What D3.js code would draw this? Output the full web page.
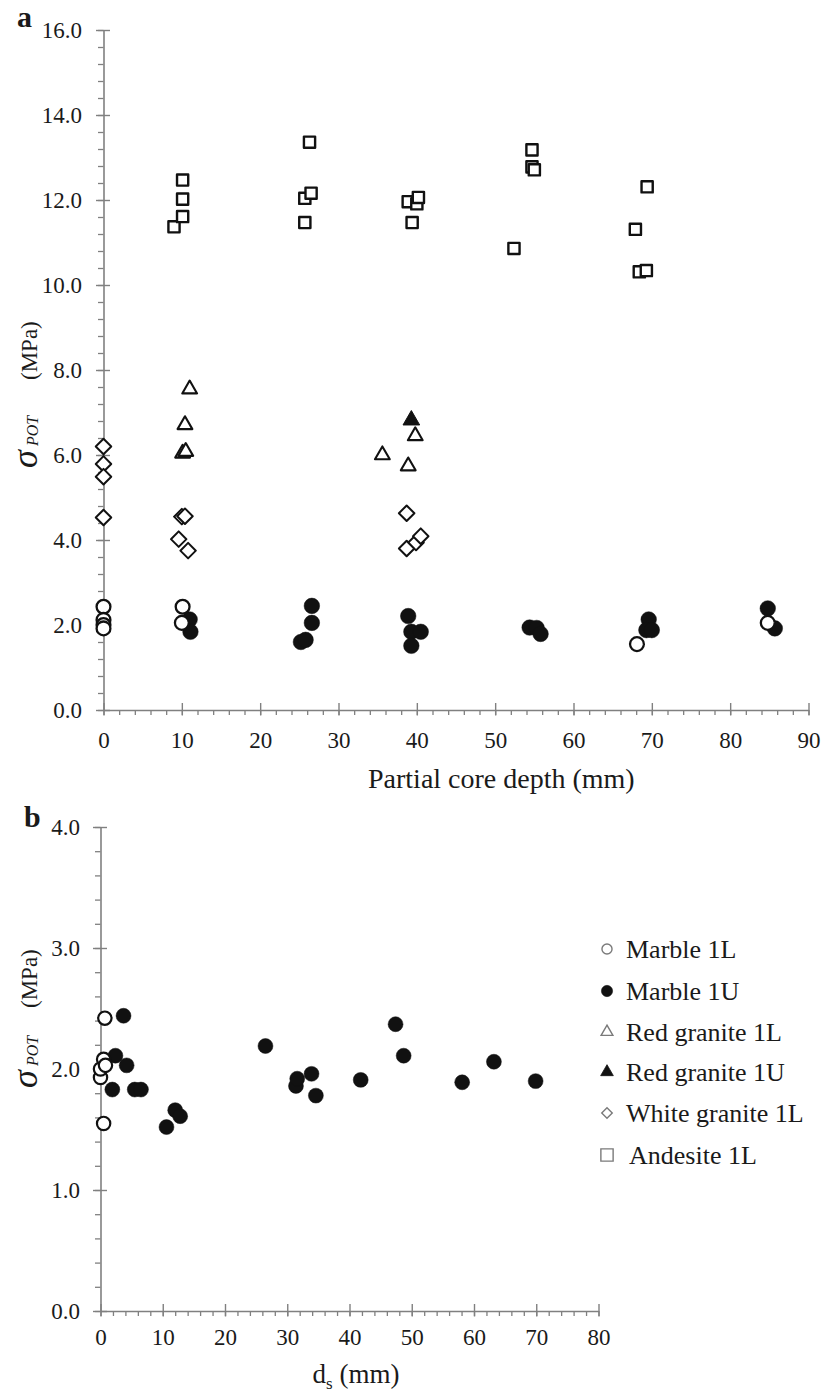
<!DOCTYPE html>
<html>
<head>
<meta charset="utf-8">
<script src="https://cdn.jsdelivr.net/npm/d3@7"></script>
<style>
  html, body { margin: 0; padding: 0; background: #fff; }
  svg { display: block; }
  text { font-family: "Liberation Serif", "Times New Roman", serif; fill: #1a1a1a; }
</style>
</head>
<body>
<svg id="chart" width="824" height="1394"></svg>
<script>
// ---------------- DATA ----------------
// Panel a: sigma_POT (MPa) vs partial core depth (mm)
const a_marble1L_depth = [0, 0, 0, 0, 10.1, 10.0, 68.1, 84.8];
const a_marble1L_sigma = [2.43, 2.12, 2.00, 1.92, 2.43, 2.05, 1.55, 2.05];

const a_marble1U_depth = [11.0, 11.1, 25.2, 25.8, 26.6, 26.6, 38.9, 39.3, 40.5, 39.3, 54.4, 55.3, 55.8, 69.6, 69.3, 70.0, 84.8, 85.7];
const a_marble1U_sigma = [2.13, 1.84, 1.60, 1.65, 2.05, 2.45, 2.21, 1.84, 1.84, 1.51, 1.94, 1.93, 1.79, 2.13, 1.88, 1.88, 2.39, 1.92];

const a_redgranite1L_depth = [11.0, 10.4, 10.1, 10.5, 35.6, 38.9, 39.8];
const a_redgranite1L_sigma = [7.55, 6.71, 6.04, 6.08, 6.00, 5.74, 6.45];

const a_redgranite1U_depth = [39.3];
const a_redgranite1U_sigma = [6.82];

const a_whitegranite1L_depth = [0, 0, 0, 0, 9.6, 10.0, 10.4, 10.8, 38.7, 38.7, 39.9, 40.5];
const a_whitegranite1L_sigma = [6.20, 5.79, 5.49, 4.53, 4.02, 4.55, 4.56, 3.75, 4.63, 3.80, 3.94, 4.09];

const a_andesite1L_depth = [9.0, 10.1, 10.1, 10.1, 25.7, 25.7, 26.5, 26.3, 38.9, 39.4, 40.0, 40.2, 52.4, 54.7, 54.7, 55.0, 67.9, 68.4, 69.3, 69.4];
const a_andesite1L_sigma = [11.37, 11.61, 12.02, 12.47, 11.47, 12.04, 12.16, 13.36, 11.96, 11.47, 11.91, 12.06, 10.86, 13.18, 12.78, 12.71, 11.31, 10.31, 10.34, 12.31];

// Panel b: sigma_POT (MPa) vs d_s (mm)
const b_marble1L_ds = [0.0, 0.0, 0.5, 0.8, 0.7, 0.5];
const b_marble1L_sigma = [1.93, 2.00, 2.08, 2.03, 2.42, 1.55];

const b_marble1U_ds = [1.9, 2.4, 3.7, 4.2, 5.5, 6.5, 10.6, 12.0, 12.8, 26.5, 31.4, 31.6, 33.9, 34.6, 41.8, 47.4, 48.7, 58.1, 63.2, 69.9];
const b_marble1U_sigma = [1.83, 2.11, 2.44, 2.03, 1.83, 1.83, 1.52, 1.66, 1.61, 2.19, 1.86, 1.92, 1.96, 1.78, 1.91, 2.37, 2.11, 1.89, 2.06, 1.90];

// Axes / ticks
const a_xDomain = [0, 90];
const a_yDomain = [0, 16];
const a_xMajor = [0, 10, 20, 30, 40, 50, 60, 70, 80, 90];
const a_yMajor = [0, 2, 4, 6, 8, 10, 12, 14, 16];
const b_xDomain = [0, 80];
const b_yDomain = [0, 4];
const b_xMajor = [0, 10, 20, 30, 40, 50, 60, 70, 80];
const b_yMajor = [0, 1, 2, 3, 4];

const legendLabels = ["Marble 1L", "Marble 1U", "Red granite 1L", "Red granite 1U", "White granite 1L", "Andesite 1L"];
const xTitleA = "Partial core depth (mm)";

// ---------------- DRAW ----------------
const svg = d3.select("#chart");
const AXIS = "#808080";

function minorVals(domain, step) {
  const out = [];
  const n = Math.round((domain[1] - domain[0]) / step);
  for (let i = 0; i <= n; i++) out.push(+(domain[0] + i * step).toFixed(4));
  return out;
}

function drawAxes(o) {
  const { x, y, xMajor, yMajor, xMinorStep, yMinorStep, fmtY, xLabelBase, yLabelOff } = o;
  const x0 = x.range()[0], y0 = y.range()[0];
  svg.append("g").attr("transform", `translate(${x0},0)`)
    .call(d3.axisLeft(y).tickValues(minorVals(y.domain(), yMinorStep)).tickSize(5.5).tickFormat(""))
    .call(g => g.select(".domain").remove())
    .call(g => g.selectAll("line").attr("stroke", AXIS).attr("stroke-width", 1.3));
  svg.append("g").attr("transform", `translate(0,${y0})`)
    .call(d3.axisBottom(x).tickValues(minorVals(x.domain(), xMinorStep)).tickSize(5).tickFormat(""))
    .call(g => g.select(".domain").remove())
    .call(g => g.selectAll("line").attr("stroke", AXIS).attr("stroke-width", 1.3));
  svg.append("g").attr("transform", `translate(${x0},0)`)
    .call(d3.axisLeft(y).tickValues(yMajor).tickSizeInner(7.5).tickSizeOuter(0).tickFormat(fmtY))
    .call(g => g.select(".domain").attr("stroke", AXIS).attr("stroke-width", 1.6))
    .call(g => g.selectAll(".tick line").attr("x1", 6.5).attr("stroke", AXIS).attr("stroke-width", 1.4))
    .call(g => g.selectAll(".tick text").attr("x", -yLabelOff).attr("dy", "0.34em")
      .attr("font-size", 23).attr("font-family", "Liberation Serif").attr("fill", "#1a1a1a"));
  svg.append("g").attr("transform", `translate(0,${y0})`)
    .call(d3.axisBottom(x).tickValues(xMajor).tickSizeInner(5.5).tickSizeOuter(0).tickFormat(d3.format("d")))
    .call(g => g.select(".domain").attr("stroke", AXIS).attr("stroke-width", 1.6))
    .call(g => g.selectAll(".tick line").attr("y1", -7).attr("stroke", AXIS).attr("stroke-width", 1.4))
    .call(g => g.selectAll(".tick text").attr("y", xLabelBase).attr("dy", 0)
      .attr("font-size", 23).attr("font-family", "Liberation Serif").attr("fill", "#1a1a1a"));
}

// rotated y-axis title: sigma (bottom), POT subscript, then (MPa)
function yTitle(xBase, yBottom, potOff, mpaOff) {
  const g = svg.append("g").attr("transform", `translate(${xBase},${yBottom}) rotate(-90)`);
  g.append("text").attr("x", 0).attr("y", 0).attr("font-style", "italic").attr("font-size", 36).text("σ");
  g.append("text").attr("x", potOff).attr("y", 1).attr("font-style", "italic").attr("font-size", 16).text("POT");
  g.append("text").attr("x", mpaOff).attr("y", 0).attr("font-size", 23).text("(MPa)");
}

function sym(type, size) { return d3.symbol().type(type).size(size)(); }

function series(xs, ys, xS, yS, style) {
  const pts = xs.map((d, i) => ({ x: d, y: ys[i] }));
  svg.append("g").selectAll("path").data(pts).join("path")
    .attr("d", sym(style.type, style.size))
    .attr("transform", d => `translate(${xS(d.x)},${yS(d.y)})${style.rotate ? " rotate(45)" : ""}`)
    .attr("fill", style.fill)
    .attr("stroke", style.stroke)
    .attr("stroke-width", style.sw)
    .attr("stroke-linejoin", "round");
}

// ----- Panel a -----
const xA = d3.scaleLinear().domain(a_xDomain).range([103.5, 808.5]);
const yA = d3.scaleLinear().domain(a_yDomain).range([710, 30]);
drawAxes({ x: xA, y: yA, xMajor: a_xMajor, yMajor: a_yMajor, xMinorStep: 2, yMinorStep: 0.4,
  fmtY: d3.format(".1f"), xLabelBase: 38, yLabelOff: 21.5 });

const stA = {
  m1L: { type: d3.symbolCircle, size: 150, fill: "#fff", stroke: "#111", sw: 2.3 },
  m1U: { type: d3.symbolCircle, size: 190, fill: "#111", stroke: "#111", sw: 0.5 },
  r1L: { type: d3.symbolTriangle, size: 95, fill: "#fff", stroke: "#111", sw: 2.1 },
  r1U: { type: d3.symbolTriangle, size: 120, fill: "#111", stroke: "#111", sw: 1 },
  w1L: { type: d3.symbolSquare, size: 120, fill: "#fff", stroke: "#111", sw: 2.0, rotate: true },
  a1L: { type: d3.symbolSquare, size: 125, fill: "#fff", stroke: "#111", sw: 2.4 }
};
series(a_andesite1L_depth, a_andesite1L_sigma, xA, yA, stA.a1L);
series(a_whitegranite1L_depth, a_whitegranite1L_sigma, xA, yA, stA.w1L);
series(a_redgranite1L_depth, a_redgranite1L_sigma, xA, yA, stA.r1L);
series(a_redgranite1U_depth, a_redgranite1U_sigma, xA, yA, stA.r1U);
series(a_marble1U_depth, a_marble1U_sigma, xA, yA, stA.m1U);
series(a_marble1L_depth, a_marble1L_sigma, xA, yA, stA.m1L);

svg.append("text").attr("x", 17).attr("y", 27).attr("font-size", 30).attr("font-weight", "bold").text("a");
yTitle(37, 468, 22, 88);
svg.append("text").attr("x", 368).attr("y", 788).attr("font-size", 28).text(xTitleA);

// ----- Panel b -----
const xB = d3.scaleLinear().domain(b_xDomain).range([100.5, 598.5]);
const yB = d3.scaleLinear().domain(b_yDomain).range([1311, 827]);
drawAxes({ x: xB, y: yB, xMajor: b_xMajor, yMajor: b_yMajor, xMinorStep: 2, yMinorStep: 0.2,
  fmtY: d3.format(".1f"), xLabelBase: 34, yLabelOff: 20.5 });

const stB = {
  m1L: { type: d3.symbolCircle, size: 140, fill: "#fff", stroke: "#111", sw: 2.2 },
  m1U: { type: d3.symbolCircle, size: 175, fill: "#111", stroke: "#111", sw: 0.5 }
};
series(b_marble1U_ds, b_marble1U_sigma, xB, yB, stB.m1U);
series(b_marble1L_ds, b_marble1L_sigma, xB, yB, stB.m1L);

svg.append("text").attr("x", 24).attr("y", 827).attr("font-size", 30).attr("font-weight", "bold").text("b");
yTitle(37, 1088, 22, 80);
const dsT = svg.append("text").attr("x", 356).attr("y", 1383).attr("text-anchor", "middle").attr("font-size", 27);
dsT.append("tspan").text("d");
dsT.append("tspan").text("s").attr("font-size", 17).attr("dy", 6);
dsT.append("tspan").text(" (mm)").attr("dy", -6);

// ----- Legend -----
const legStyles = [
  { type: d3.symbolCircle, size: 80, fill: "#fff", stroke: "#7a7a7a", sw: 1.4 },
  { type: d3.symbolCircle, size: 100, fill: "#111", stroke: "#111", sw: 0.5 },
  { type: d3.symbolTriangle, size: 60, fill: "#fff", stroke: "#7a7a7a", sw: 1.4 },
  { type: d3.symbolTriangle, size: 70, fill: "#111", stroke: "#111", sw: 0.8 },
  { type: d3.symbolSquare, size: 55, fill: "#fff", stroke: "#7a7a7a", sw: 1.4, rotate: true },
  { type: d3.symbolSquare, size: 150, fill: "#fff", stroke: "#7a7a7a", sw: 1.4 }
];
const legRows = [949, 991, 1032, 1072, 1113, 1155];
const leg = svg.append("g").selectAll("g").data(legendLabels).join("g")
  .attr("transform", (d, i) => `translate(607,${legRows[i]})`);
leg.append("path")
  .attr("d", (d, i) => sym(legStyles[i].type, legStyles[i].size))
  .attr("transform", (d, i) => legStyles[i].rotate ? "rotate(45)" : null)
  .attr("fill", (d, i) => legStyles[i].fill)
  .attr("stroke", (d, i) => legStyles[i].stroke)
  .attr("stroke-width", (d, i) => legStyles[i].sw);
leg.append("text").attr("x", (d, i) => i === 5 ? 22 : 19).attr("y", 9).attr("font-size", 26).text(d => d);
</script>
</body>
</html>
